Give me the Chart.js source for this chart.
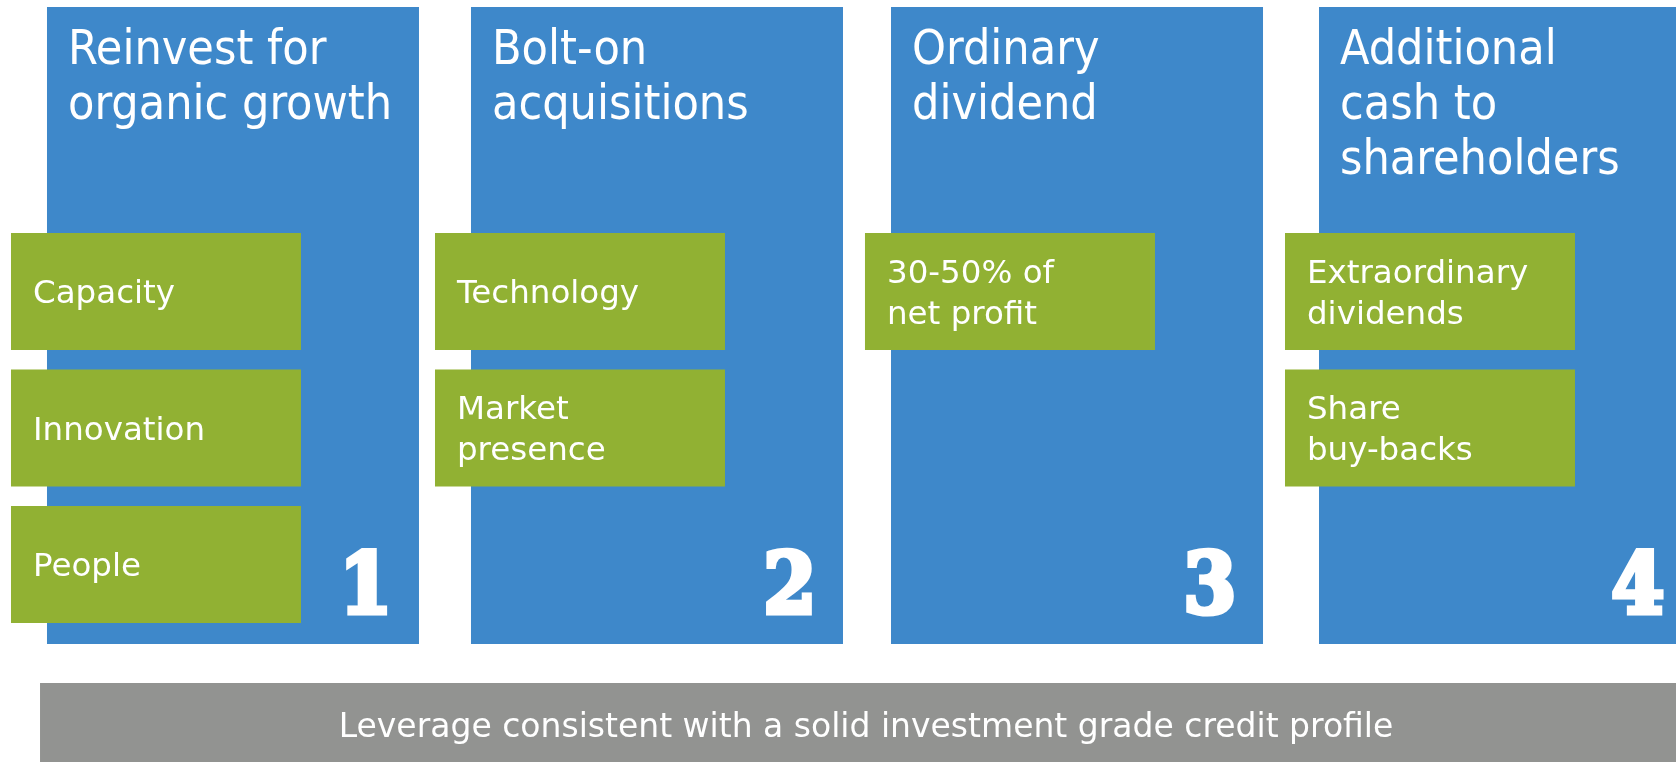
<!DOCTYPE html>
<html>
<head>
<meta charset="utf-8">
<title>Capital allocation priorities</title>
<script src="https://cdn.jsdelivr.net/npm/chart.js@4/dist/chart.umd.min.js"></script>
<style>
  html, body { margin: 0; padding: 0; background: #ffffff; }
  #wrap { position: relative; width: 1676px; height: 762px; }
</style>
</head>
<body>
<div id="wrap"><canvas id="myChart"></canvas></div>
<script>
// ---- data ----
const panelNumbers = ['1', '2', '3', '4'];
const panelTitles = [
  ['Reinvest for', 'organic growth'],
  ['Bolt-on', 'acquisitions'],
  ['Ordinary', 'dividend'],
  ['Additional', 'cash to', 'shareholders']
];
const panelItems = [
  [['Capacity'], ['Innovation'], ['People']],
  [['Technology'], ['Market', 'presence']],
  [['30-50% of', 'net profit']],
  [['Extraordinary', 'dividends'], ['Share', 'buy-backs']]
];
const footerText = 'Leverage consistent with a solid investment grade credit profile';

// ---- layout (x in panel units, y in item-row units) ----
const xMin = -0.5495, xMax = 3.4033;
const yMin = -1.707, yMax = 3.8755;
const panelX = [0, 1, 1.9906, 3];
const itemX = [-0.1816, 0.8184, 1.8325, 2.8231];
const panelTop = -1.656, panelBottom = 3.011;
const itemHeight = 0.857;
const footerCenter = 1.493, footerTop = 3.297, footerBottom = 4;

const BLUE = '#3e88ca';
const GREEN = '#91b133';
const GREY = '#929391';

// condensed DejaVu if it is there, else plain DejaVu a bit smaller
function hasFont(name, fallback) {
  const c = document.createElement('canvas').getContext('2d');
  const s = 'Reinvest for organic growth 1234';
  c.font = '40px "' + name + '", "' + fallback + '"';
  const a = c.measureText(s).width;
  c.font = '40px "' + fallback + '"';
  const b = c.measureText(s).width;
  return Math.abs(a - b) > 0.5;
}
const titleFont = hasFont('DejaVu Sans Condensed', 'DejaVu Sans')
  ? '48px "DejaVu Sans Condensed"' : '43.5px "DejaVu Sans"';
const numberFont = hasFont('DejaVu Serif Condensed', 'DejaVu Serif')
  ? 'bold 84px "DejaVu Serif Condensed"' : 'bold 80px "DejaVu Serif"';
const itemFont = '32.5px "DejaVu Sans"';
const footerFont = '33px "DejaVu Sans"';

const panelBars = panelNumbers.map((n, i) => ({ x: panelX[i], y: [panelTop, panelBottom] }));
const itemBars = [];
panelItems.forEach((list, i) => {
  list.forEach((lines, r) => {
    itemBars.push({ x: itemX[i], y: [r, r + itemHeight], lines: lines });
  });
});
const footerBars = [{ x: footerCenter, y: [footerTop, footerBottom] }];

function box(el) {
  const p = el.getProps(['x', 'y', 'base', 'width'], true);
  return {
    left: p.x - p.width / 2,
    right: p.x + p.width / 2,
    top: Math.min(p.y, p.base),
    bottom: Math.max(p.y, p.base)
  };
}

const textPlugin = {
  id: 'panelText',
  afterDatasetsDraw(chart) {
    const ctx = chart.ctx;
    ctx.save();
    ctx.fillStyle = '#ffffff';
    ctx.strokeStyle = '#ffffff';
    ctx.lineJoin = 'miter';
    ctx.textBaseline = 'alphabetic';

    // panel titles and big numbers
    chart.getDatasetMeta(1).data.forEach((el, i) => {
      const b = box(el);
      ctx.textAlign = 'left';
      ctx.font = titleFont;
      panelTitles[i].forEach((t, k) => ctx.fillText(t, b.left + 21, b.top + 57 + k * 55));
      ctx.textAlign = 'right';
      ctx.font = numberFont;
      ctx.lineWidth = 5;
      ctx.fillText(panelNumbers[i], b.right - 27, b.bottom - 30.5);
      ctx.strokeText(panelNumbers[i], b.right - 27, b.bottom - 30.5);
    });

    // green item labels
    ctx.textAlign = 'left';
    ctx.font = itemFont;
    chart.getDatasetMeta(0).data.forEach((el, j) => {
      const b = box(el);
      const lines = chart.data.datasets[0].data[j].lines;
      const cy = (b.top + b.bottom) / 2 + 12;
      lines.forEach((t, k) => {
        ctx.fillText(t, b.left + 22, cy + (k - (lines.length - 1) / 2) * 41);
      });
    });

    // footer
    const f = box(chart.getDatasetMeta(2).data[0]);
    ctx.textAlign = 'center';
    ctx.font = footerFont;
    ctx.fillText(footerText, (f.left + f.right) / 2, f.top + 54);
    ctx.restore();
  }
};

const barStyle = { borderWidth: 0, borderSkipped: false, inflateAmount: 0, stack: 'all' };

new Chart(document.getElementById('myChart'), {
  type: 'bar',
  data: {
    datasets: [
      Object.assign({ label: 'items', data: itemBars, backgroundColor: GREEN, barThickness: 290, order: 0 }, barStyle),
      Object.assign({ label: 'panels', data: panelBars, backgroundColor: BLUE, barThickness: 372, order: 1 }, barStyle),
      Object.assign({ label: 'footer', data: footerBars, backgroundColor: GREY, barThickness: 1652, order: 2 }, barStyle)
    ]
  },
  options: {
    responsive: true,
    maintainAspectRatio: false,
    animation: false,
    events: [],
    layout: { padding: 0 },
    plugins: {
      legend: { display: false },
      tooltip: { enabled: false }
    },
    scales: {
      x: { type: 'linear', min: xMin, max: xMax, offset: false, display: false },
      y: { type: 'linear', reverse: true, min: yMin, max: yMax, stacked: false, display: false }
    }
  },
  plugins: [textPlugin]
});
</script>
</body>
</html>
